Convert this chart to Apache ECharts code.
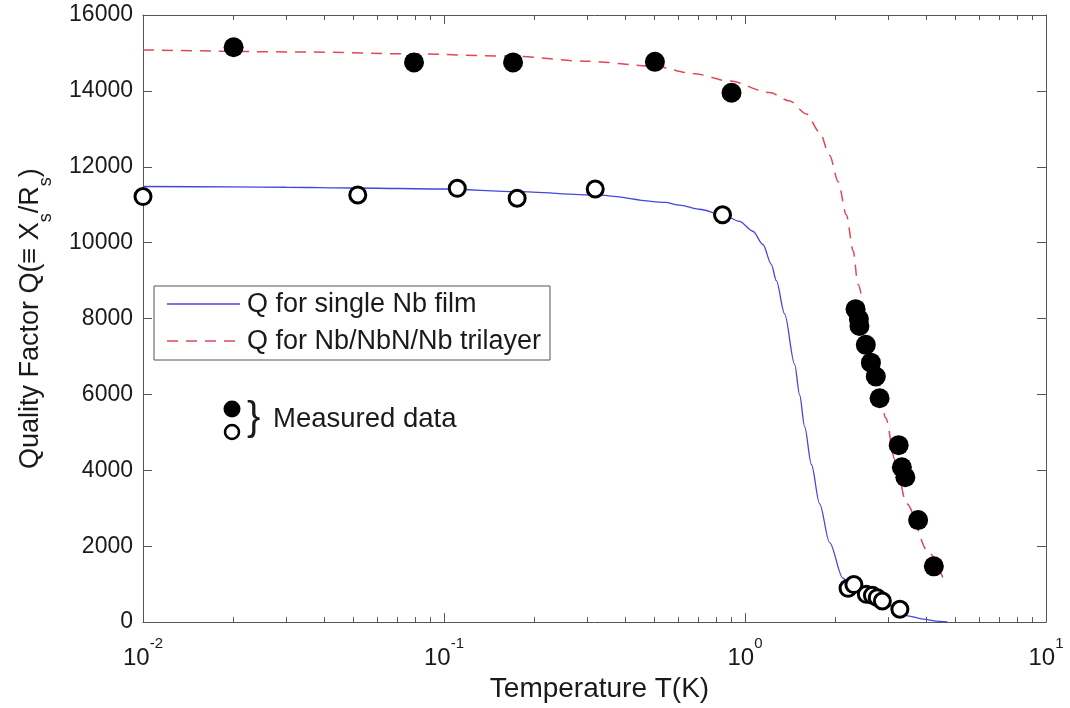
<!DOCTYPE html>
<html><head><meta charset="utf-8">
<script src="https://cdn.jsdelivr.net/npm/echarts@6/dist/echarts.min.js"></script>
<style>html,body{margin:0;padding:0;background:#fff}#c{width:1070px;height:708px}</style>
</head><body><div id="c"></div>
<script>
// ---- data ----
const xMajorTicks = [0.01, 0.1, 1, 10];
const xMinorTicks = [0.02,0.03,0.04,0.05,0.06,0.07,0.08,0.09,0.2,0.3,0.4,0.5,0.6,0.7,0.8,0.9,2,3,4,5,6,7,8,9];
const yTicks = [0,2000,4000,6000,8000,10000,12000,14000,16000];

const nbFilmCurveT = [0.01,0.02,0.03,0.05,0.1,0.175,0.318,0.543,0.606,0.706,0.845,0.959,1.062,1.147,1.223,1.271,1.354,1.462,1.519,1.578,1.662,1.77,1.91,2.115,2.26,2.53,2.86,3.0,3.27,3.47,3.91,4.44,4.7];
const nbFilmCurveQ = [11480,11470,11460,11440,11414,11345,11257,11060,10990,10880,10735,10562,10301,9952,9430,8997,8125,6794,5985,5150,4153,3114,2096,1159,930,700,520,440,300,165,78,18,5];

const trilayerCurveT = [0.01,0.035,0.08,0.17,0.30,0.50,0.671,0.889,1.207,1.407,1.60,1.77,1.91,2.04,2.17,2.29,2.37,2.60,2.75,2.935,3.15,3.44,4.06,4.54];
const trilayerCurveQ = [15080,15025,14973,14911,14780,14650,14459,14259,13955,13736,13389,12912,12301,11606,10735,9780,8908,7517,6525,5377,4273,3124,1861,1175];

const measuredFilmT = [0.01,0.0517,0.1107,0.175,0.318,0.842,2.20,2.30,2.53,2.65,2.75,2.86,3.27];
const measuredFilmQ = [11215,11257,11432,11171,11414,10735,890,990,731,705,645,556,339];

const measuredTrilayerT = [0.02,0.0795,0.1696,0.502,0.902,2.33,2.39,2.40,2.52,2.62,2.72,2.80,3.24,3.32,3.41,3.76,4.24];
const measuredTrilayerQ = [15150,14750,14750,14765,13950,8248,7987,7804,7308,6838,6473,5899,4664,4079,3818,2688,1469];

const legendNames = ['Q for single Nb film', 'Q for Nb/NbN/Nb trilayer'];
const xName = 'Temperature T(K)';
const annotationText = 'Measured data';

// ---- chart ----
const FONT = '"Liberation Sans", Arial, Helvetica, sans-serif';
const AX = '#555';
const TXT = '#1a1a1a';
const pairs = (a, b) => a.map((v, i) => [v, b[i]]);

const chart = echarts.init(document.getElementById('c'), null, {renderer: 'canvas'});

const majorLog = (pos, labels) => ({
  type: 'log', logBase: 10, min: 0.01, max: 10, position: pos,
  axisLine: {show: true, onZero: false, lineStyle: {color: AX, width: 1}},
  axisTick: {show: true, inside: true, length: 9, lineStyle: {color: AX}},
  splitLine: {show: false},
  axisLabel: labels ? {
    show: true, margin: 14, color: TXT, fontFamily: FONT,
    formatter: v => '{b|10}{s|' + Math.round(Math.log10(v)) + '}',
    rich: {
      b: {fontSize: 24, lineHeight: 34, verticalAlign: 'bottom', fontFamily: FONT, color: TXT},
      s: {fontSize: 15, lineHeight: 15, verticalAlign: 'top', fontFamily: FONT, color: TXT}
    }
  } : {show: false}
});
const minorAxis = pos => ({
  type: 'value', min: -2, max: 1, position: pos,
  axisLine: {show: false, onZero: false},
  axisTick: {show: true, inside: true, length: 5, lineStyle: {color: AX}, customValues: xMinorTicks.map(Math.log10)},
  axisLabel: {show: false},
  splitLine: {show: false}
});

const xBottom = majorLog('bottom', true);
xBottom.name = xName;
xBottom.nameLocation = 'middle';
xBottom.nameGap = 50;
xBottom.nameTextStyle = {fontSize: 28, color: TXT, fontFamily: FONT, padding: [0, 0, 0, 10]};

const option = {
  backgroundColor: '#fff',
  animation: false,
  grid: {left: 143, right: 24, top: 15, bottom: 80, containLabel: false},
  xAxis: [xBottom, minorAxis('bottom'), majorLog('top', false), minorAxis('top')],
  yAxis: [
    {
      type: 'value', min: 0, max: 16000, interval: 2000, position: 'left',
      axisLine: {show: true, onZero: false, lineStyle: {color: AX}},
      axisTick: {show: true, inside: true, length: 9, lineStyle: {color: AX}},
      splitLine: {show: false},
      axisLabel: {fontSize: 23, color: TXT, fontFamily: FONT, margin: 10,
        formatter: v => String(v), customValues: yTicks},
      name: '{n|Quality Factor Q(≡ X}{u|s}{n|/R}{u|s}{n|)}',
      nameLocation: 'middle', nameGap: 88,
      nameTextStyle: {
        fontFamily: FONT, color: TXT,
        rich: {
          n: {fontSize: 27, lineHeight: 38, verticalAlign: 'top', fontFamily: FONT, color: TXT},
          u: {fontSize: 18, lineHeight: 18, verticalAlign: 'bottom', fontFamily: FONT, color: TXT}
        }
      }
    },
    {
      type: 'value', min: 0, max: 16000, interval: 2000, position: 'right',
      axisLine: {show: true, onZero: false, lineStyle: {color: AX}},
      axisTick: {show: true, inside: true, length: 9, lineStyle: {color: AX}},
      axisLabel: {show: false}, splitLine: {show: false}
    }
  ],
  series: [
    {
      name: legendNames[0], type: 'line', xAxisIndex: 0, yAxisIndex: 0,
      data: pairs(nbFilmCurveT, nbFilmCurveQ), showSymbol: false, symbol: 'none',
      smooth: 0.3, smoothMonotone: 'x',
      lineStyle: {color: '#4646dc', width: 1.3}, z: 2
    },
    {
      name: legendNames[1], type: 'line', xAxisIndex: 0, yAxisIndex: 0,
      data: pairs(trilayerCurveT, trilayerCurveQ), showSymbol: false, symbol: 'none',
      smooth: 0.3, smoothMonotone: 'x',
      lineStyle: {color: '#e04858', width: 1.5, type: [11, 8]}, z: 2
    },
    {
      name: 'measured film', type: 'scatter', xAxisIndex: 0, yAxisIndex: 0,
      data: pairs(measuredFilmT, measuredFilmQ), symbol: 'circle', symbolSize: 16,
      itemStyle: {color: '#fff', borderColor: '#000', borderWidth: 3, opacity: 1}, z: 3, clip: false
    },
    {
      name: 'measured trilayer', type: 'scatter', xAxisIndex: 0, yAxisIndex: 0,
      data: pairs(measuredTrilayerT, measuredTrilayerQ), symbol: 'circle', symbolSize: 20,
      itemStyle: {color: '#000', opacity: 1}, z: 4, clip: false
    }
  ],
  graphic: [
    {type: 'rect', shape: {x: 154, y: 286, width: 396, height: 74}, style: {fill: '#fff', stroke: '#555', lineWidth: 1}, z: 10},
    {type: 'line', shape: {x1: 167, y1: 304, x2: 240, y2: 304}, style: {stroke: '#4646dc', lineWidth: 1.3}, z: 11},
    {type: 'line', shape: {x1: 167, y1: 341, x2: 240, y2: 341}, style: {stroke: '#e04858', lineWidth: 1.5, lineDash: [11, 8]}, z: 11},
    {type: 'text', x: 247, y: 305, style: {text: legendNames[0], fontSize: 27, fontFamily: FONT, fill: TXT, textVerticalAlign: 'middle'}, z: 11},
    {type: 'text', x: 247, y: 342, style: {text: legendNames[1], fontSize: 27, fontFamily: FONT, fill: TXT, textVerticalAlign: 'middle'}, z: 11},
    {type: 'circle', shape: {cx: 232, cy: 409, r: 8.5}, style: {fill: '#000'}, z: 11},
    {type: 'circle', shape: {cx: 232, cy: 432, r: 7}, style: {fill: '#fff', stroke: '#000', lineWidth: 2.5}, z: 11},
    {type: 'text', x: 247, y: 419, style: {text: '}', fontSize: 40, fontFamily: FONT, fill: TXT, textVerticalAlign: 'middle'}, z: 11},
    {type: 'text', x: 273, y: 419, style: {text: annotationText, fontSize: 27.5, fontFamily: FONT, fill: TXT, textVerticalAlign: 'middle'}, z: 11}
  ]
};
chart.setOption(option);
</script>
</body></html>
